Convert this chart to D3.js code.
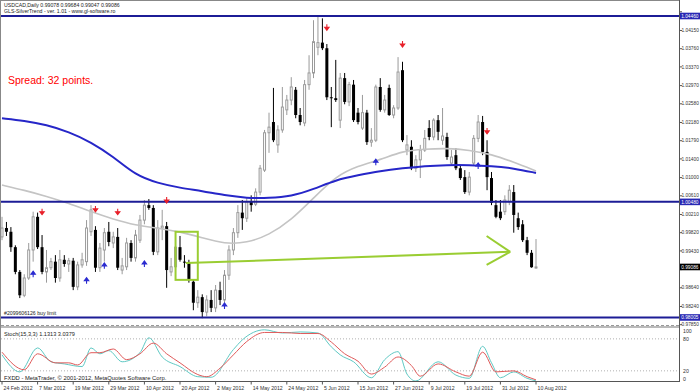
<!DOCTYPE html>
<html>
<head>
<meta charset="utf-8">
<script src="https://cdn.jsdelivr.net/npm/d3@7"></script>
<style>
  body { margin: 0; background: #fff; }
  svg { display: block; }
  text { font-family: "Liberation Sans", Arial, sans-serif; }
</style>
</head>
<body>
<svg id="chart" width="700" height="392"></svg>
<script>
(function() {

// Date labels on the time axis and the bar each one sits on
var dateLabels = ["24 Feb 2012", "7 Mar 2012", "19 Mar 2012", "29 Mar 2012", "10 Apr 2012", "20 Apr 2012",
  "2 May 2012", "14 May 2012", "24 May 2012", "5 Jun 2012", "15 Jun 2012", "27 Jun 2012",
  "9 Jul 2012", "19 Jul 2012", "31 Jul 2012", "10 Aug 2012"];
var dateBars = [0, 8, 16, 24, 32, 40, 48, 56, 64, 72, 80, 88, 96, 104, 112, 120];

// USDCAD daily candles, bar 0 = 24 Feb 2012
var opens = [
  0.9973, 0.9992, 0.9984, 0.9951, 0.9898, 0.9848, 0.9885, 0.9945, 1.0016, 0.9951,
  0.9898, 0.9907, 0.9920, 0.9885, 0.9924, 0.9915, 0.9922, 0.9866, 0.9913, 0.9920,
  0.9984, 0.9988, 0.9907, 0.9945, 0.9984, 0.9960, 0.9973, 0.9902, 0.9909, 0.9960,
  0.9928, 0.9966, 1.0009, 1.0041, 1.0035, 0.9941, 0.9992, 0.9996, 0.9898, 0.9909,
  0.9951, 0.9920, 0.9918, 0.9877, 0.9832, 0.9844, 0.9812, 0.9838, 0.9821, 0.9859,
  0.9838, 0.9891, 0.9945, 0.9982, 1.0025, 1.0013, 1.0048, 1.0043, 1.0069, 1.0116,
  1.0196, 1.0219, 1.0170, 1.0202, 1.0245, 1.0266, 1.0288, 1.0234, 1.0217, 1.0299,
  1.0324, 1.0379, 1.0389, 1.0377, 1.0272, 1.0270, 1.0223, 1.0313, 1.0262, 1.0299,
  1.0239, 1.0206, 1.0239, 1.0176, 1.0180, 1.0294, 1.0245, 1.0292, 1.0234, 1.0249,
  1.0330, 1.0159, 1.0166, 1.0120, 1.0138, 1.0159, 1.0206, 1.0187, 1.0223, 1.0180,
  1.0187, 1.0131, 1.0148, 1.0120, 1.0101, 1.0069, 1.0131, 1.0184, 1.0219, 1.0155,
  1.0099, 1.0041, 1.0027, 1.0027, 1.0048, 1.0069, 1.0013, 1.0000, 0.9966, 0.9939,
  0.99078];
var highs = [
  1.0016, 1.0005, 0.9994, 0.9955, 0.9902, 0.9893, 0.9960, 1.0027, 1.0025, 0.9977,
  0.9945, 0.9928, 0.9934, 0.9945, 0.9934, 0.9928, 0.9928, 0.9920, 0.9939, 1.0009,
  1.0041, 0.9996, 0.9960, 0.9992, 1.0005, 0.9984, 0.9992, 0.9928, 0.9971, 0.9966,
  0.9988, 1.0020, 1.0052, 1.0054, 1.0041, 1.0009, 1.0031, 1.0005, 0.9928, 0.9955,
  0.9975, 0.9934, 0.9924, 0.9881, 0.9859, 0.9850, 0.9848, 0.9859, 0.9870, 0.9877,
  0.9902, 0.9955, 0.9992, 1.0041, 1.0052, 1.0056, 1.0062, 1.0077, 1.0127, 1.0202,
  1.0239, 1.0292, 1.0212, 1.0294, 1.0277, 1.0315, 1.0294, 1.0249, 1.0309, 1.0362,
  1.0437, 1.0446, 1.0441, 1.0386, 1.0294, 1.0352, 1.0324, 1.0324, 1.0305, 1.0309,
  1.0249, 1.0277, 1.0245, 1.0206, 1.0299, 1.0313, 1.0277, 1.0299, 1.0255, 1.0358,
  1.0348, 1.0191, 1.0180, 1.0148, 1.0170, 1.0202, 1.0223, 1.0227, 1.0234, 1.0249,
  1.0196, 1.0159, 1.0163, 1.0127, 1.0116, 1.0112, 1.0191, 1.0234, 1.0232, 1.0180,
  1.0112, 1.0052, 1.0052, 1.0062, 1.0084, 1.0084, 1.0025, 1.0009, 0.9973, 0.9945,
  0.99684];
var lows = [
  0.9966, 0.9975, 0.9941, 0.9893, 0.9842, 0.9844, 0.9881, 0.9920, 0.9947, 0.9893,
  0.9875, 0.9902, 0.9875, 0.9877, 0.9909, 0.9898, 0.9859, 0.9859, 0.9907, 0.9911,
  0.9975, 0.9898, 0.9898, 0.9920, 0.9953, 0.9949, 0.9902, 0.9893, 0.9902, 0.9920,
  0.9920, 0.9960, 1.0000, 1.0031, 0.9934, 0.9934, 0.9966, 0.9864, 0.9889, 0.9902,
  0.9920, 0.9907, 0.9875, 0.9816, 0.9821, 0.9799, 0.9803, 0.9812, 0.9812, 0.9827,
  0.9832, 0.9881, 0.9934, 0.9971, 0.9988, 1.0005, 1.0027, 1.0039, 1.0062, 1.0112,
  1.0153, 1.0176, 1.0153, 1.0196, 1.0234, 1.0255, 1.0227, 1.0212, 1.0210, 1.0288,
  1.0313, 1.0362, 1.0373, 1.0266, 1.0208, 1.0262, 1.0206, 1.0257, 1.0253, 1.0219,
  1.0214, 1.0202, 1.0170, 1.0166, 1.0176, 1.0241, 1.0239, 1.0232, 1.0227, 1.0245,
  1.0176, 1.0148, 1.0116, 1.0112, 1.0099, 1.0155, 1.0180, 1.0180, 1.0180, 1.0170,
  1.0138, 1.0127, 1.0116, 1.0095, 1.0065, 1.0062, 1.0127, 1.0176, 1.0148, 1.0073,
  1.0041, 1.0013, 1.0009, 1.0020, 1.0041, 0.9982, 0.9988, 0.9962, 0.9934, 0.9907,
  0.99047];
var closes = [
  0.9992, 0.9984, 0.9951, 0.9898, 0.9848, 0.9885, 0.9945, 1.0016, 0.9951, 0.9898,
  0.9907, 0.9920, 0.9885, 0.9924, 0.9915, 0.9922, 0.9866, 0.9913, 0.9924, 0.9992,
  1.0031, 0.9907, 0.9949, 0.9982, 0.9962, 0.9973, 0.9907, 0.9911, 0.9960, 0.9928,
  0.9977, 1.0009, 1.0041, 1.0035, 0.9941, 0.9992, 0.9996, 0.9902, 0.9909, 0.9951,
  0.9924, 0.9918, 0.9881, 0.9832, 0.9844, 0.9812, 0.9838, 0.9821, 0.9859, 0.9838,
  0.9891, 0.9945, 0.9982, 1.0025, 1.0013, 1.0048, 1.0041, 1.0069, 1.0120, 1.0196,
  1.0208, 1.0180, 1.0202, 1.0251, 1.0266, 1.0294, 1.0234, 1.0219, 1.0299, 1.0324,
  1.0391, 1.0389, 1.0377, 1.0272, 1.0270, 1.0266, 1.0313, 1.0262, 1.0299, 1.0223,
  1.0219, 1.0239, 1.0176, 1.0180, 1.0294, 1.0245, 1.0266, 1.0234, 1.0249, 1.0326,
  1.0180, 1.0170, 1.0120, 1.0138, 1.0159, 1.0184, 1.0187, 1.0223, 1.0198, 1.0189,
  1.0144, 1.0144, 1.0120, 1.0099, 1.0069, 1.0101, 1.0184, 1.0219, 1.0155, 1.0101,
  1.0046, 1.0016, 1.0013, 1.0052, 1.0073, 1.0020, 0.9994, 0.9966, 0.9939, 0.9908,
  0.99086];

// Price scale labels
var priceTicks = [1.04550, 1.04150, 1.03760, 1.03370, 1.02970, 1.02580, 1.02180, 1.01790, 1.01400,
  1.01000, 1.00610, 1.00210, 0.99820, 0.99430, 0.99030, 0.98640, 0.98240, 0.97850];

// Horizontal lines and the current bid
var levelPrices = [1.04460, 1.00480, 0.98005];
var bidPrice = 0.99086;

// Moving averages, read every 5 bars
var maBars = [0, 5, 10, 15, 20, 25, 30, 35, 40, 45, 50, 55, 60, 65, 70, 75, 80, 85, 90, 95, 100, 105, 110, 115, 120];
var maBlue = [1.0227, 1.0222, 1.0213, 1.0198, 1.0176, 1.0145, 1.0105, 1.0088, 1.0078, 1.0071, 1.0062, 1.0056, 1.0056,
  1.0060, 1.0075, 1.0095, 1.0105, 1.0114, 1.0120, 1.0125, 1.0127, 1.0127, 1.0125, 1.0120, 1.0110];
var maGray = [1.0084, 1.0073, 1.0060, 1.0045, 1.0027, 1.0011, 0.9998, 0.9992, 0.9984, 0.9971, 0.9958, 0.9960, 0.9977,
  1.0009, 1.0056, 1.0103, 1.0125, 1.0138, 1.0157, 1.0161, 1.0163, 1.0159, 1.0150, 1.0133, 1.0114];

// Stochastic (15,3,3)
var stochMainBars = [0, 4, 8, 11, 14, 18, 20, 22, 24, 27, 31, 33, 36, 40, 44, 47, 52, 54, 59, 63, 67, 71, 74, 76, 79,
  83, 86, 89, 91, 93, 98, 102, 105, 108, 110, 112, 115, 118, 120];
var stochMain = [50, 18, 63, 37, 33, 28, 63, 52, 58, 37, 54, 82, 46, 28, 9, 8, 60, 78, 97, 91, 93, 91, 65, 50, 37,
  7, 41, 56, 14, 1, 37, 12, 6, 66, 35, 7, 18, 6, 1.13];
var stochSignalBars = [0, 5, 8, 12, 15, 17, 20, 22, 25, 28, 31, 34, 37, 40, 44, 46, 49, 52, 55, 59, 63, 67, 71, 74, 77,
  80, 83, 86, 89, 92, 94, 98, 102, 105, 108, 111, 115, 118, 120];
var stochSignal = [55, 22, 52, 35, 35, 31, 54, 54, 61, 41, 52, 72, 52, 35, 13, 9, 25, 50, 75, 92, 92, 90, 90, 74, 52,
  38, 14, 27, 46, 30, 10, 33, 18, 10, 55, 18, 20, 9, 3.04];
var stochLevels = [100, 80, 20, 0];

// SilverTrend signal arrows
var sellBars = [9, 21, 26, 37, 73, 90, 109];
var sellPrices = [1.0027, 1.0033, 1.0027, 1.0052, 1.0422, 1.0386, 1.0200];
var buyBars = [7, 19, 23, 32, 50, 84, 107];
var buyPrices = [0.9893, 0.9879, 0.9911, 0.9915, 0.9825, 1.0133, 1.0125];

// Drawn objects: rectangle and arrow
var boxBars = [39, 44];
var boxPrices = [0.9984, 0.9881];
var trendBars = [41.3, 114.2];
var trendPrices = [0.9917, 0.9941];
var headBars = [108.9, 108.9];
var headPrices = [0.9975, 0.9913];

var svg = d3.select("#chart");

// Scales
var x = d3.scaleLinear().domain([0, 120]).range([2, 536]);
var y = d3.scaleLinear().domain([0.97850, 1.04460]).range([324.7, 16]);
var ys = d3.scaleLinear().domain([0, 100]).range([381.5, 328.2]);

var defs = svg.append("defs");
defs.append("clipPath").attr("id", "mainClip")
  .append("rect").attr("x", 1).attr("y", 1).attr("width", 678).attr("height", 324);
defs.append("clipPath").attr("id", "subClip")
  .append("rect").attr("x", 1).attr("y", 327).attr("width", 678).attr("height", 54);

svg.append("rect").attr("width", 700).attr("height", 392).attr("fill", "#fff");

var main = svg.append("g").attr("clip-path", "url(#mainClip)");
var sub = svg.append("g").attr("clip-path", "url(#subClip)");

// Candles
var bars = d3.range(opens.length);
var candle = main.selectAll("g.candle")
  .data(bars)
  .enter()
  .append("g");

candle.append("line")
  .attr("x1", function(i) { return x(i); })
  .attr("x2", function(i) { return x(i); })
  .attr("y1", function(i) { return y(highs[i]); })
  .attr("y2", function(i) { return y(lows[i]); })
  .attr("stroke", function(i) { return closes[i] >= opens[i] ? "#9a9a9a" : "#000"; })
  .attr("stroke-width", 1);

candle.append("rect")
  .attr("x", function(i) { return closes[i] >= opens[i] ? x(i) - 1 : x(i) - 1.5; })
  .attr("width", function(i) { return closes[i] >= opens[i] ? 2 : 3; })
  .attr("y", function(i) { return y(Math.max(opens[i], closes[i])); })
  .attr("height", function(i) { return Math.max(1, Math.abs(y(opens[i]) - y(closes[i]))); })
  .attr("fill", function(i) { return closes[i] >= opens[i] ? "#fff" : "#000"; })
  .attr("stroke", function(i) { return closes[i] >= opens[i] ? "#9a9a9a" : "none"; })
  .attr("stroke-width", 1);

// Moving averages
var maLine = d3.line()
  .x(function(d, i) { return x(maBars[i]); })
  .y(function(d) { return y(d); })
  .curve(d3.curveBasis);

main.append("path").datum(maGray)
  .attr("d", maLine)
  .attr("fill", "none")
  .attr("stroke", "#c4c4c4")
  .attr("stroke-width", 1.6);

main.append("path").datum(maBlue)
  .attr("d", maLine)
  .attr("fill", "none")
  .attr("stroke", "#2626c8")
  .attr("stroke-width", 2);

// Horizontal levels
main.selectAll("line.level")
  .data(levelPrices)
  .enter()
  .append("line")
  .attr("x1", 1).attr("x2", 679)
  .attr("y1", function(d) { return y(d); })
  .attr("y2", function(d) { return y(d); })
  .attr("stroke", "#1c1c96")
  .attr("stroke-width", 2);

// Signal arrows
function arrowPath(cx, cy, dir) {
  return "M" + cx + "," + (cy - 3 * dir) + "L" + cx + "," + (cy + 1 * dir) +
    "M" + (cx - 2.2) + "," + cy + "L" + (cx + 2.2) + "," + cy + "L" + cx + "," + (cy + 3 * dir) + "Z";
}

main.selectAll("path.sell")
  .data(sellBars)
  .enter()
  .append("path")
  .attr("d", function(d, i) { return arrowPath(x(d), y(sellPrices[i]), 1); })
  .attr("fill", "#e8202a")
  .attr("stroke", "#e8202a")
  .attr("stroke-width", 1.1);

main.selectAll("path.buy")
  .data(buyBars)
  .enter()
  .append("path")
  .attr("d", function(d, i) { return arrowPath(x(d), y(buyPrices[i]), -1); })
  .attr("fill", "#2a2ad0")
  .attr("stroke", "#2a2ad0")
  .attr("stroke-width", 1.1);

// Green rectangle and arrow
var green = "#9acd32";
main.append("rect")
  .attr("x", x(boxBars[0]))
  .attr("y", y(boxPrices[0]))
  .attr("width", x(boxBars[1]) - x(boxBars[0]))
  .attr("height", y(boxPrices[1]) - y(boxPrices[0]))
  .attr("fill", "none")
  .attr("stroke", green)
  .attr("stroke-width", 2);

main.append("line")
  .attr("x1", x(trendBars[0])).attr("y1", y(trendPrices[0]))
  .attr("x2", x(trendBars[1])).attr("y2", y(trendPrices[1]))
  .attr("stroke", green).attr("stroke-width", 2);

main.selectAll("line.head")
  .data(headBars)
  .enter()
  .append("line")
  .attr("x1", function(d) { return x(d); })
  .attr("y1", function(d, i) { return y(headPrices[i]); })
  .attr("x2", x(trendBars[1]))
  .attr("y2", y(trendPrices[1]))
  .attr("stroke", green)
  .attr("stroke-width", 2);

// Stochastic levels and lines
sub.selectAll("line.stlevel")
  .data([80, 20])
  .enter()
  .append("line")
  .attr("x1", 1).attr("x2", 679)
  .attr("y1", function(d) { return ys(d); })
  .attr("y2", function(d) { return ys(d); })
  .attr("stroke", "#b0b0b0")
  .attr("stroke-dasharray", "1,2");

var stochMainLine = d3.line()
  .x(function(d, i) { return x(stochMainBars[i]); })
  .y(function(d) { return ys(d); })
  .curve(d3.curveMonotoneX);
var stochSignalLine = d3.line()
  .x(function(d, i) { return x(stochSignalBars[i]); })
  .y(function(d) { return ys(d); })
  .curve(d3.curveMonotoneX);

sub.append("path").datum(stochMain)
  .attr("d", stochMainLine)
  .attr("fill", "none")
  .attr("stroke", "#5fc9c4")
  .attr("stroke-width", 1);
sub.append("path").datum(stochSignal)
  .attr("d", stochSignalLine)
  .attr("fill", "none")
  .attr("stroke", "#e05a5a")
  .attr("stroke-width", 1);

// Frames and window separator
svg.append("line").attr("x1", 0.5).attr("x2", 0.5).attr("y1", 0).attr("y2", 382).attr("stroke", "#888");
svg.append("line").attr("x1", 0).attr("x2", 680).attr("y1", 0.5).attr("y2", 0.5).attr("stroke", "#888");
svg.append("line").attr("x1", 679.5).attr("x2", 679.5).attr("y1", 0).attr("y2", 382).attr("stroke", "#555");
svg.append("line").attr("x1", 0).attr("x2", 680).attr("y1", 381.5).attr("y2", 381.5).attr("stroke", "#555");
svg.append("line").attr("x1", 1).attr("x2", 679).attr("y1", 325.5).attr("y2", 325.5)
  .attr("stroke", "#999").attr("stroke-dasharray", "3,2");
svg.append("line").attr("x1", 1).attr("x2", 679).attr("y1", 327).attr("y2", 327)
  .attr("stroke", "#777").attr("stroke-width", 1);

// Price axis; plain labels hidden where a highlighted tag covers them
var tagPrices = levelPrices.concat([bidPrice]);
var visibleTicks = priceTicks.filter(function(p) {
  return tagPrices.every(function(t) { return Math.abs(y(p) - y(t)) > 5; });
});

var axisG = svg.append("g").attr("font-size", "4.8px").attr("fill", "#333");
axisG.selectAll("line.ptick")
  .data(priceTicks)
  .enter()
  .append("line")
  .attr("x1", 679).attr("x2", 682)
  .attr("y1", function(d) { return y(d); })
  .attr("y2", function(d) { return y(d); })
  .attr("stroke", "#555");
axisG.selectAll("text.ptick")
  .data(visibleTicks)
  .enter()
  .append("text")
  .attr("x", 681.5)
  .attr("y", function(d) { return y(d); })
  .attr("dy", "0.35em")
  .text(function(d) { return d.toFixed(5); });

// Highlighted price labels
var tags = levelPrices.map(function(p) { return { price: p, fill: "#2828b4" }; });
tags.push({ price: bidPrice, fill: "#000" });
var tag = svg.selectAll("g.tag")
  .data(tags)
  .enter()
  .append("g");
tag.append("rect")
  .attr("x", 680).attr("width", 20)
  .attr("y", function(d) { return y(d.price) - 3.3; })
  .attr("height", 6.6)
  .attr("fill", function(d) { return d.fill; });
tag.append("text")
  .attr("x", 681.2)
  .attr("y", function(d) { return y(d.price); })
  .attr("dy", "0.35em")
  .attr("font-size", "4.8px")
  .attr("fill", "#fff")
  .text(function(d) { return d.price.toFixed(5); });

// Stochastic scale
axisG.selectAll("text.slevel")
  .data(stochLevels)
  .enter()
  .append("text")
  .attr("x", 683)
  .attr("y", function(d) { return Math.min(Math.max(ys(d), 331), 379.5); })
  .attr("dy", "0.35em")
  .attr("font-size", "5.2px")
  .text(function(d) { return d; });

// Time axis
svg.selectAll("line.dtick")
  .data(dateBars)
  .enter()
  .append("line")
  .attr("x1", function(d) { return x(d); })
  .attr("x2", function(d) { return x(d); })
  .attr("y1", 381.5).attr("y2", 384.5)
  .attr("stroke", "#555");
svg.selectAll("text.dlabel")
  .data(dateLabels)
  .enter()
  .append("text")
  .attr("x", function(d, i) { return x(dateBars[i]) + 1.5; })
  .attr("y", 390)
  .attr("font-size", "5.2px")
  .attr("fill", "#333")
  .text(function(d) { return d; });

// Window captions
var captions = [
  { text: "USDCAD,Daily  0.99078 0.99684 0.99047 0.99086", y: 7, size: 5.2 },
  { text: "GLS-SilverTrend - ver. 1.01 - www.gl-software.ro", y: 13.2, size: 5.2 },
  { text: "#2099606126 buy limit", y: 315, size: 5.2 },
  { text: "Stoch(15,3,3) 1.1313 3.0379", y: 335.5, size: 5.6 },
  { text: "FXDD - MetaTrader, \u00a9 2001-2012, MetaQuotes Software Corp.", y: 380, size: 5.8 }
];
svg.selectAll("text.caption")
  .data(captions)
  .enter()
  .append("text")
  .attr("x", 4)
  .attr("y", function(d) { return d.y; })
  .attr("font-size", function(d) { return d.size + "px"; })
  .attr("fill", "#222")
  .text(function(d) { return d.text; });

svg.append("text")
  .attr("x", 8).attr("y", 84)
  .attr("font-size", "10.5px")
  .attr("fill", "#ff0000")
  .text("Spread: 32 points.");

})();
</script>
</body>
</html>
